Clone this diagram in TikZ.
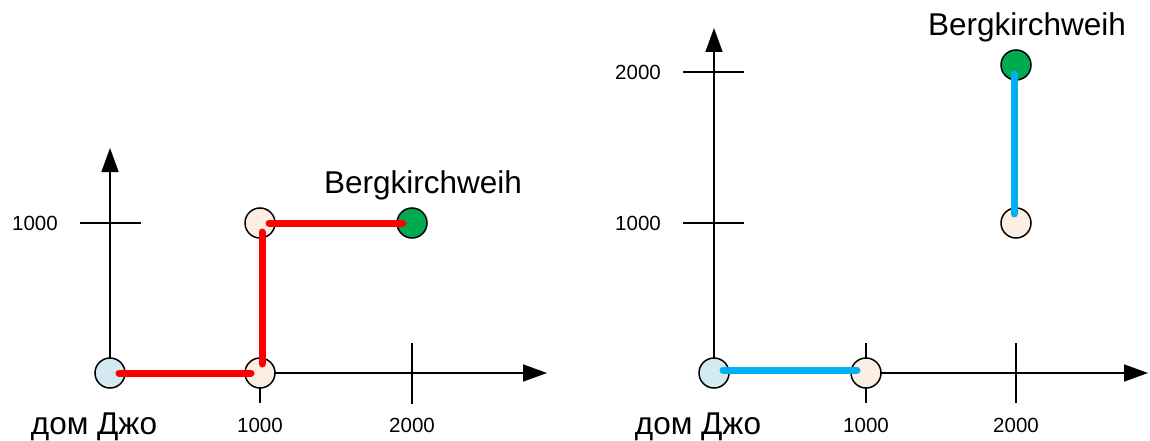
\documentclass[tikz,border=0pt]{standalone}
\usepackage{fontspec}
\setmainfont{Liberation Sans}
\usetikzlibrary{arrows.meta}
\definecolor{homeblue}{RGB}{210,234,240}
\definecolor{beige}{RGB}{253,238,228}
\definecolor{festgreen}{RGB}{0,170,80}
\definecolor{routeblue}{RGB}{0,176,240}
\begin{document}
\begin{tikzpicture}[x=1pt,y=-1pt,
  axis/.style={line width=1.5pt,-{Triangle[length=24pt,width=17pt]}},
  tick/.style={line width=1.5pt},
  pt/.style={circle,draw=black,line width=1.5pt,minimum size=30pt,inner sep=0pt},
  home/.style={pt,fill=homeblue},
  mid/.style={pt,fill=beige},
  fest/.style={pt,fill=festgreen},
  route/.style={line width=7pt,line cap=round,shorten <=9pt,shorten >=9pt},
  small/.style={font=\fontsize{20.5}{24}\selectfont,inner sep=0pt},
  big/.style={font=\fontsize{31.5}{36}\selectfont,inner sep=0pt}]
\useasboundingbox (0,0) rectangle (1150,441);
% ---------- left diagram ----------
\coordinate (O1) at (110,373);
\coordinate (Y1) at (110,148);
\coordinate (X1) at (547,373);
\draw[axis] (O1) -- (Y1);
\draw[axis] (O1) -- (X1);
\coordinate (ly1a) at (80,223); \coordinate (ly1b) at (141,223);
\draw[tick] (ly1a) -- (ly1b);
\coordinate (lx1a) at (260,343); \coordinate (lx1b) at (260,403);
\draw[tick] (lx1a) -- (lx1b);
\coordinate (lx2a) at (412,343); \coordinate (lx2b) at (412,404);
\draw[tick] (lx2a) -- (lx2b);
\node[small] (lyl1) at (35,223) {1000};
\node[small] (lxl1) at (260,425) {1000};
\node[small] (lxl2) at (412,425) {2000};
\node[home] (h1) at (110,373) {};
\node[mid] (a1) at (260,373) {};
\node[mid] (b1) at (260,223) {};
\node[fest] (f1) at (412,223) {};
\node[big] (hl1) at (94,427) {дом Джо};
\node[big] (fl1) at (423,185) {Bergkirchweih};
\draw[route,red] (h1.center) -- (a1.center);
\draw[route,red] ([xshift=2pt]a1.center) -- ([xshift=2pt]b1.center);
\draw[route,red] (b1.center) -- (f1.center);
% ---------- right diagram ----------
\coordinate (O2) at (714,373);
\coordinate (Y2) at (714,28);
\coordinate (X2) at (1148,373);
\draw[axis] (O2) -- (Y2);
\draw[axis] (O2) -- (X2);
\coordinate (ry1a) at (683,223); \coordinate (ry1b) at (744,223);
\draw[tick] (ry1a) -- (ry1b);
\coordinate (ry2a) at (683,72); \coordinate (ry2b) at (744,72);
\draw[tick] (ry2a) -- (ry2b);
\coordinate (rx1a) at (866,343); \coordinate (rx1b) at (866,403);
\draw[tick] (rx1a) -- (rx1b);
\coordinate (rx2a) at (1016,343); \coordinate (rx2b) at (1016,403);
\draw[tick] (rx2a) -- (rx2b);
\node[small] (ryl1) at (638,223) {1000};
\node[small] (ryl2) at (638,72) {2000};
\node[small] (rxl1) at (866,425) {1000};
\node[small] (rxl2) at (1016,425) {2000};
\node[home] (h2) at (714,373) {};
\node[mid] (a2) at (866,373) {};
\node[mid] (b2) at (1016,223) {};
\node[fest] (f2) at (1016,65) {};
\node[big] (hl2) at (698,427) {дом Джо};
\node[big] (fl2) at (1027,27) {Bergkirchweih};
\draw[route,routeblue] ([yshift=3pt]h2.center) -- ([yshift=3pt]a2.center);
\draw[route,routeblue] ([xshift=-2pt]b2.center) -- ([xshift=-2pt]f2.center);
\end{tikzpicture}
\end{document}
